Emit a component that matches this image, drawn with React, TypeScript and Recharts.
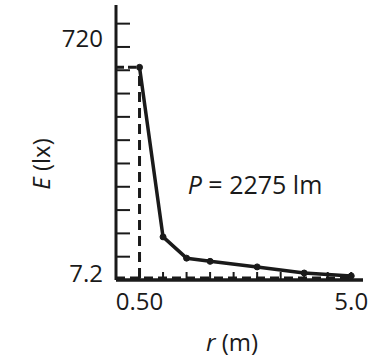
import React from 'react';
import { ComposedChart, Line, XAxis, YAxis, ReferenceLine, Customized } from 'recharts';

const radius = [0.5, 1.0, 1.5, 2.0, 3.0, 4.0, 5.0];
const illuminance = [730, 148, 75, 64, 45, 24, 14];
const xTicks = [0.5, 1.0, 1.5, 2.0, 2.5, 3.0, 3.5, 4.0, 4.5, 5.0];
const xTickLabels: Record<string, string> = { '0.5': '0.50', '5': '5.0' };
const yTicks = [7.2, 80, 160, 240, 320, 400, 480, 560, 640, 720, 800, 880];
const yTickLabels: Record<string, string> = { '7.2': '7.2', '720': '720' };
const plateau = 730;
const floorLevel = 7.2;
const powerLabel = '2275 lm';

const data = radius.map((r, i) => ({ r, E: illuminance[i] }));

const FONT = '"Open Sans", sans-serif';
const INK = '#1a1a1a';

const XTick = (props: any) => {
  const { x, y, payload } = props;
  const label = xTickLabels[String(payload.value)];
  return (
    <g>
      <line x1={x} x2={x} y1={y} y2={y - 8} stroke={INK} strokeWidth={2} />
      {label && (
        <text x={x} y={y + 20} textAnchor="middle" dominantBaseline="central" fontFamily={FONT} fontSize={24} fill={INK}>
          {label}
        </text>
      )}
    </g>
  );
};

const YTick = (props: any) => {
  const { x, y, payload } = props;
  const label = yTickLabels[String(payload.value)];
  const dy = payload.value === 720 ? -33 : -5;
  return (
    <g>
      {payload.value !== 7.2 && <line x1={x} x2={x + 14} y1={y} y2={y} stroke={INK} strokeWidth={2} />}
      {label && (
        <text x={x - 13} y={y + dy} textAnchor="end" dominantBaseline="central" fontFamily={FONT} fontSize={24} fill={INK}>
          {label}
        </text>
      )}
    </g>
  );
};

const Texts = () => (
  <g fontFamily={FONT} fill={INK}>
    <text x={255} y={184} textAnchor="middle" dominantBaseline="central" fontSize={25}>
      <tspan fontStyle="italic">P</tspan> = {powerLabel}
    </text>
    <text x={232} y={341} textAnchor="middle" dominantBaseline="central" fontSize={24}>
      <tspan fontStyle="italic">r</tspan> (m)
    </text>
    <text transform="translate(40,164) rotate(-90)" textAnchor="middle" dominantBaseline="central" fontSize={24}>
      <tspan fontStyle="italic">E</tspan> (lx)
    </text>
  </g>
);

export default function App() {
  return (
    <div style={{ position: 'absolute', left: 0, top: 0, background: '#fff' }}>
      <ComposedChart width={373} height={356} data={data} margin={{ top: 5, right: 10, bottom: 46, left: 56 }}>
        <XAxis
          dataKey="r"
          type="number"
          domain={[0, 5.25]}
          ticks={xTicks}
          allowDataOverflow
          height={30}
          tickSize={0}
          tickMargin={0}
          tickLine={false}
          axisLine={{ stroke: INK, strokeWidth: 3.5 }}
          tick={<XTick />}
          interval={0}
        />
        <YAxis
          type="number"
          domain={[0, 944]}
          ticks={yTicks}
          allowDataOverflow
          width={60}
          tickSize={0}
          tickMargin={0}
          tickLine={false}
          axisLine={{ stroke: INK, strokeWidth: 3 }}
          tick={<YTick />}
          interval={0}
        />
        <ReferenceLine
          segment={[{ x: 0, y: floorLevel }, { x: 5.0, y: floorLevel }]}
          stroke={INK}
          strokeWidth={3}
          strokeDasharray="9 5"
        />
        <ReferenceLine
          segment={[{ x: 0, y: plateau }, { x: 0.5, y: plateau }]}
          stroke={INK}
          strokeWidth={3}
          strokeDasharray="8 4"
        />
        <ReferenceLine
          segment={[{ x: 0.5, y: floorLevel }, { x: 0.5, y: plateau }]}
          stroke={INK}
          strokeWidth={3}
          strokeDasharray="10 6"
        />
        <Line
          dataKey="E"
          type="linear"
          stroke={INK}
          strokeWidth={3.5}
          strokeLinejoin="round"
          dot={{ r: 3, fill: INK, stroke: INK, strokeWidth: 1 }}
          isAnimationActive={false}
        />
        <Customized component={<Texts />} />
      </ComposedChart>
    </div>
  );
}
